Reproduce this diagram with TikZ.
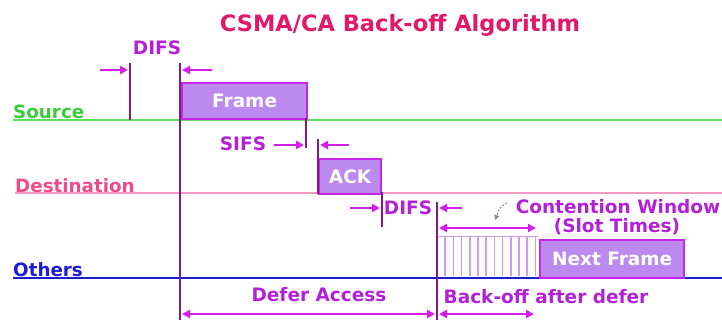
\documentclass[tikz,border=0pt]{standalone}
\usepackage{fontspec}
\setmainfont{DejaVu Sans}
\usetikzlibrary{arrows.meta}
\definecolor{titlec}{HTML}{E2186A}
\definecolor{srcc}{HTML}{3ACC3A}
\definecolor{srcl}{HTML}{5ADD5A}
\definecolor{dstc}{HTML}{EE4A8C}
\definecolor{dstl}{HTML}{F49AC0}
\definecolor{othc}{HTML}{1C1CD8}
\definecolor{labc}{HTML}{B420D8}
\definecolor{arrc}{HTML}{D41EEA}
\definecolor{vlinec}{HTML}{801A86}
\definecolor{boxf}{HTML}{BC8AEE}
\definecolor{boxd}{HTML}{C626EA}
\definecolor{slotc}{HTML}{D49AEE}
\definecolor{ptrc}{HTML}{7A9A7A}
\begin{document}
\begin{tikzpicture}[x=1pt,y=-1pt,
  lab/.style={text=labc, font=\bfseries\fontsize{18.5}{20}\selectfont, inner sep=0},
  tl/.style={font=\bfseries\fontsize{18.3}{20}\selectfont, inner sep=0, anchor=south west},
  dimarrow/.style={draw=arrc, line width=2pt, -{Triangle[length=8pt,width=8pt]}},
  dimboth/.style={draw=arrc, line width=2pt, {Triangle[length=8pt,width=8pt]}-{Triangle[length=8pt,width=8pt]}},
  vl/.style={draw=vlinec, line width=1.7pt},
  fbox/.style={draw=boxd, fill=boxf, line width=2.2pt, text=white, inner sep=0,
    font=\bfseries\fontsize{18.5}{20}\selectfont, anchor=north west},
]
\useasboundingbox (0,0) rectangle (722,320);

% title
\node[text=titlec, font=\bfseries\fontsize{22.5}{24}\selectfont, inner sep=0] (title) at (400,25) {CSMA/CA Back-off Algorithm};

% timelines
\node[tl, text=srcc] (src) at (13,119) {Source};
\coordinate (srcend) at (722,120);
\draw[srcl, line width=2.8pt] (src.south west |- srcend) -- (srcend);

\node[tl, text=dstc] (dst) at (15,193) {Destination};
\coordinate (dstend) at (722,193);
\draw[dstl, line width=1.3pt] (dst.south west |- dstend) -- (dstend);

\node[tl, text=othc] (oth) at (13,277) {Others};
\coordinate (othend) at (722,278);
\draw[othc, line width=2.4pt] (oth.south west |- othend) -- (othend);

% slot area
\draw[slotc, line width=1pt] (437,237) -- (538,237);
\foreach \i in {1,...,12} \draw[slotc, line width=1.7pt] ({437+\i*8.2},237) -- ({437+\i*8.2},276);

% boxes
\node[fbox, minimum width=125pt, minimum height=36pt] (frame) at (181,82) {Frame};
\node[fbox, minimum width=62pt, minimum height=35pt] (ack) at (318,158) {ACK};
\node[fbox, minimum width=144pt, minimum height=38pt] (next) at (539,239) {Next Frame};

% vertical markers
\coordinate (d1a) at (130,63); \coordinate (d1b) at (130,120);
\draw[vl] (d1a) -- (d1b);
\coordinate (d2a) at (180,63); \coordinate (d2b) at (180,320);
\draw[vl] (d2a) -- (d2b);
\coordinate (s1a) at (306,118); \coordinate (s1b) at (306,148);
\draw[vl] (s1a) -- (s1b);
\coordinate (s2a) at (318,139); \coordinate (s2b) at (318,194);
\draw[vl] (s2a) -- (s2b);
\coordinate (e1a) at (382,192); \coordinate (e1b) at (382,227);
\draw[vl] (e1a) -- (e1b);
\coordinate (e2a) at (437,202); \coordinate (e2b) at (437,320);
\draw[vl] (e2a) -- (e2b);

% DIFS (top)
\node[lab] (difs1) at (157,48) {DIFS};
\coordinate (a1) at (100,70); \coordinate (a1e) at (128,70);
\draw[dimarrow] (a1) -- (a1e);
\coordinate (a2) at (212,70); \coordinate (a2e) at (182,70);
\draw[dimarrow] (a2) -- (a2e);

% SIFS
\node[lab] (sifs) at (243,144) {SIFS};
\coordinate (a3) at (274,145); \coordinate (a3e) at (304,145);
\draw[dimarrow] (a3) -- (a3e);
\coordinate (a4) at (349,145); \coordinate (a4e) at (320,145);
\draw[dimarrow] (a4) -- (a4e);

% DIFS (middle)
\node[lab] (difs2) at (408,208) {DIFS};
\coordinate (a5) at (350,208); \coordinate (a5e) at (380,208);
\draw[dimarrow] (a5) -- (a5e);
\coordinate (a6) at (462,208); \coordinate (a6e) at (439,208);
\draw[dimarrow] (a6) -- (a6e);

% contention window
\node[lab] (cw) at (618,207) {Contention Window};
\node[lab] (slot) at (617,227) {(Slot Times)};
\coordinate (cwa) at (439,228); \coordinate (cwb) at (536,228);
\draw[dimboth] (cwa) -- (cwb);
\coordinate (pa) at (507,203); \coordinate (pb) at (495,220);
\draw[ptrc, line width=1pt, dashed, dash pattern=on 2pt off 1.5pt, -{Triangle[length=5pt,width=5pt]}] (pa) .. controls (500,207) .. (pb);

% bottom
\node[lab] (defer) at (319,295) {Defer Access};
\node[lab] (backoff) at (546,297) {Back-off after defer};
\coordinate (b1) at (182,314); \coordinate (b1e) at (435,314);
\draw[dimboth] (b1) -- (b1e);
\coordinate (b2) at (439,314); \coordinate (b2e) at (534,314);
\draw[dimboth] (b2) -- (b2e);
\end{tikzpicture}
\end{document}
